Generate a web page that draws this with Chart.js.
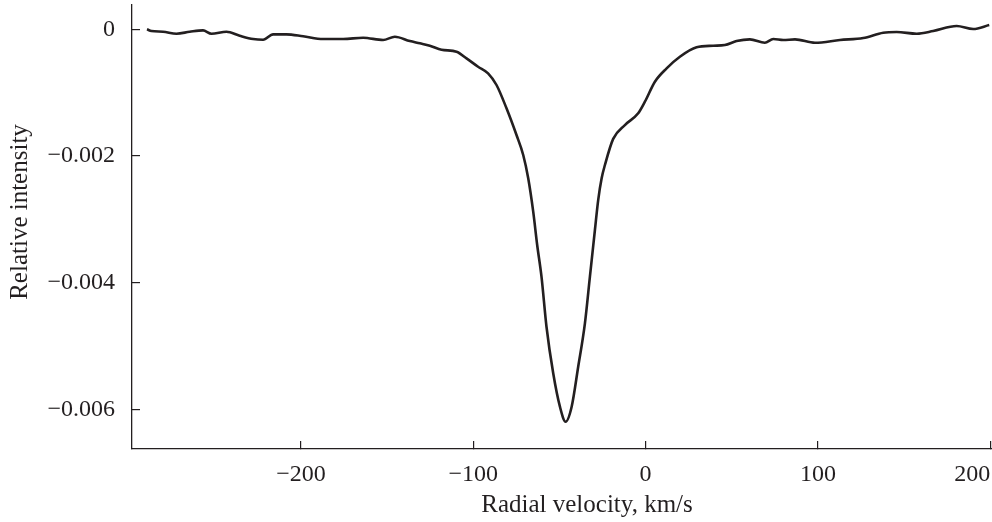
<!DOCTYPE html>
<html>
<head>
<meta charset="utf-8">
<script src="https://cdn.jsdelivr.net/npm/chart.js@4"></script>
<style>
  html, body { margin: 0; padding: 0; background: #fff; }
  #wrap { width: 992px; height: 522px; }
</style>
</head>
<body>
<div id="wrap"><canvas id="chart" width="992" height="522"></canvas></div>
<script>
// ---------- DATA ----------
const velocity = [
  -289.3, -286.7, -280.0, -272.2, -264.5, -256.8, -251.9, -243.2, -235.5, -227.7,
  -221.9, -216.1, -208.4, -198.7, -187.1, -175.5, -163.9, -152.3, -145.5, -136.8,
  -131.0, -125.2, -118.4, -109.7, -103.9, -97.2, -91.4, -86.5, -80.7, -74.9,
  -71.0, -68.1, -65.2, -62.9, -60.4, -57.5, -53.6, -49.7, -46.4, -42.9,
  -39.1, -35.2, -32.3, -29.4, -27.5, -25.5, -23.6, -18.8, -12.0, -4.3,
  -0.4, 5.4, 12.2, 19.9, 29.6, 39.2, 46.0, 52.8, 60.5, 69.2,
  74.1, 79.9, 86.7, 98.3, 112.8, 126.3, 137.9, 145.7, 157.3, 166.9,
  180.5, 190.1, 199.4
];
// relative intensity in units of 1e-3
const intensity = [
  0.000, -0.027, -0.038, -0.069, -0.038, -0.016, -0.069, -0.038, -0.101, -0.153,
  -0.164, -0.079, -0.079, -0.110, -0.153, -0.153, -0.133, -0.169, -0.117, -0.185,
  -0.221, -0.259, -0.322, -0.354, -0.458, -0.590, -0.695, -0.879, -1.247, -1.669,
  -1.984, -2.352, -2.879, -3.405, -3.905, -4.695, -5.430, -5.957, -6.194, -5.957,
  -5.326, -4.641, -3.905, -3.168, -2.695, -2.352, -2.142, -1.730, -1.511, -1.326,
  -1.143, -0.827, -0.616, -0.433, -0.284, -0.259, -0.248, -0.185, -0.158, -0.212,
  -0.153, -0.169, -0.158, -0.212, -0.169, -0.137, -0.054, -0.043, -0.069, -0.027,
  0.052, 0.005, 0.068
];

const xTicks = [-200, -100, 0, 100, 200];
// last label padded so it stays inside the canvas like in the figure
const xTickLabels = ['\u2212200', '\u2212100', '0', '100', '200\u2002\u2002\u2002'];
const yTicks = [0, -0.002, -0.004, -0.006];
const yTickLabels = ['0', '\u22120.002', '\u22120.004', '\u22120.006'];

// titles sit a bit off-centre in the figure; leading spaces nudge them
const xTitle = '\u2002\u2002\u2002\u2002Radial velocity, km/s';
const yTitle = '\u2002\u2002\u2009Relative intensity';

// ---------- CHART ----------
const ink = '#231f20';
const family = "'Liberation Serif', 'Times New Roman', serif";
const tickFont = { family, size: 24 };
const titleFont = { family, size: 25 };

const points = velocity.map((v, i) => ({ x: v, y: intensity[i] / 1000 }));

new Chart(document.getElementById('chart').getContext('2d'), {
  type: 'line',
  data: {
    datasets: [{
      data: points,
      borderColor: ink,
      borderWidth: 2.6,
      pointRadius: 0,
      fill: false,
      cubicInterpolationMode: 'monotone'
    }]
  },
  options: {
    responsive: false,
    animation: false,
    layout: { padding: { top: 5, right: 0, bottom: 0, left: 0 } },
    plugins: { legend: { display: false }, tooltip: { enabled: false } },
    scales: {
      x: {
        type: 'linear',
        min: -298,
        max: 201,
        border: { color: ink, width: 1.3 },
        grid: { drawOnChartArea: false, drawTicks: true, tickLength: -8, color: ink, lineWidth: 1.2 },
        afterBuildTicks: s => { s.ticks = xTicks.map(v => ({ value: v })); },
        ticks: {
          color: ink, font: tickFont, padding: 19, maxRotation: 0, autoSkip: false,
          callback: (v, i) => xTickLabels[i]
        },
        title: { display: true, text: xTitle, color: ink, font: titleFont, padding: { top: 0, bottom: 2 } },
        afterFit: s => { s.height = 73; s.paddingLeft = 0; s.paddingRight = 0; }
      },
      y: {
        type: 'linear',
        min: -0.006625,
        max: 0.000384,
        border: { color: ink, width: 1.3 },
        grid: { drawOnChartArea: false, drawTicks: true, tickLength: -8, color: ink, lineWidth: 1.2 },
        afterBuildTicks: s => { s.ticks = yTicks.map(v => ({ value: v })); },
        ticks: {
          color: ink, font: tickFont, padding: 25, autoSkip: false,
          callback: (v, i) => yTickLabels[i]
        },
        title: { display: true, text: yTitle, color: ink, font: titleFont, padding: { top: 5, bottom: 0 } },
        afterFit: s => { s.width = 132; s.paddingTop = 0; s.paddingBottom = 0; }
      }
    }
  }
});
</script>
</body>
</html>
